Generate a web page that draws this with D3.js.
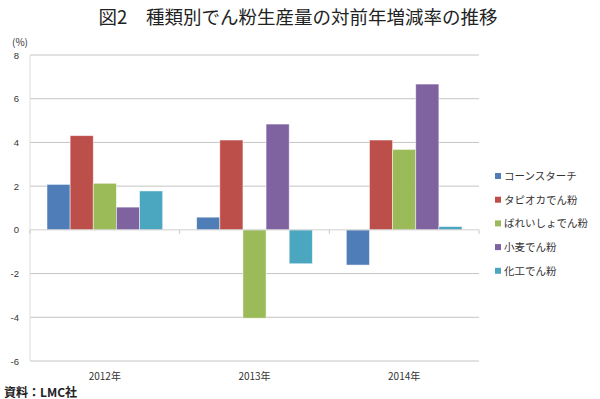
<!DOCTYPE html>
<html>
<head>
<meta charset="utf-8">
<script src="https://cdn.jsdelivr.net/npm/d3@7"></script>
<style>
  body { margin: 0; background: #fff; }
  svg { display: block; font-family: "Noto Sans CJK JP", "Liberation Sans", sans-serif; }
</style>
</head>
<body>
<svg id="viz" width="600" height="399"></svg>
<script>
const WIDTH = 600;
const HEIGHT = 399;

// data
const years = ["2012年", "2013年", "2014年"];
const series = ["コーンスターチ", "タピオカでん粉", "ばれいしょでん粉", "小麦でん粉", "化工でん粉"];
const colors = ["#4F7DB8", "#BD4F4B", "#9BBB59", "#7F62A0", "#4BA6C0"];
const cornstarch = [2.08, 0.58, -1.61];
const tapioca = [4.31, 4.11, 4.11];
const potato = [2.13, -4.04, 3.68];
const wheat = [1.04, 4.84, 6.67];
const modified = [1.78, -1.55, 0.15];
const yTicks = [-6, -4, -2, 0, 2, 4, 6, 8];

const values = [cornstarch, tapioca, potato, wheat, modified];

const PLOT = { left: 30, right: 479, top: 55, bottom: 361 };

const svg = d3.select("#viz");

const x0 = d3.scaleBand().domain(years).range([PLOT.left, PLOT.right]);
const x1 = d3.scaleBand().domain(series).range([17, x0.bandwidth() - 17]);
const y = d3.scaleLinear().domain([-6, 8]).range([PLOT.bottom, PLOT.top]);

// title
svg.append("text")
  .attr("x", 298).attr("y", 24)
  .attr("text-anchor", "middle")
  .attr("font-size", 18.5)
  .attr("fill", "#222")
  .text("図2　種類別でん粉生産量の対前年増減率の推移");

svg.append("text")
  .attr("x", 12).attr("y", 46)
  .attr("font-size", 10)
  .attr("fill", "#333")
  .text("(%)");

// grid lines
svg.append("g").selectAll("line")
  .data(yTicks.filter(d => d !== 0))
  .join("line")
  .attr("x1", PLOT.left).attr("x2", PLOT.right)
  .attr("y1", d => y(d)).attr("y2", d => y(d))
  .attr("stroke", "#c4c4c4")
  .attr("stroke-width", 1);

// y axis
svg.append("line")
  .attr("x1", PLOT.left).attr("x2", PLOT.left)
  .attr("y1", PLOT.top).attr("y2", PLOT.bottom)
  .attr("stroke", "#dcdcdc");

svg.append("g").selectAll("text")
  .data(yTicks)
  .join("text")
  .attr("x", 19).attr("y", d => y(d) + 3.5)
  .attr("text-anchor", "end")
  .attr("font-size", 9.5)
  .attr("font-family", "Liberation Sans, sans-serif")
  .attr("fill", "#333")
  .text(d => d);

// bars
const groups = svg.append("g").selectAll("g")
  .data(years)
  .join("g")
  .attr("transform", d => `translate(${x0(d)},0)`);

groups.selectAll("rect")
  .data((yr, i) => series.map((s, j) => ({ s, j, v: values[j][i] })))
  .join("rect")
  .attr("x", d => x1(d.s))
  .attr("width", x1.bandwidth())
  .attr("y", d => y(Math.max(0, d.v)))
  .attr("height", d => Math.abs(y(d.v) - y(0)))
  .attr("fill", d => colors[d.j])
  .attr("stroke", "#ffffff")
  .attr("stroke-opacity", 0.6)
  .attr("stroke-width", 0.8);

// zero axis line + category ticks
svg.append("line")
  .attr("x1", PLOT.left).attr("x2", PLOT.right)
  .attr("y1", y(0)).attr("y2", y(0))
  .attr("stroke", "#d0d0d0");

svg.append("g").selectAll("line")
  .data([PLOT.left, ...years.slice(1).map(d => x0(d)), PLOT.right])
  .join("line")
  .attr("x1", d => d).attr("x2", d => d)
  .attr("y1", y(0)).attr("y2", y(0) + 4)
  .attr("stroke", "#c8c8c8");

// x labels
svg.append("g").selectAll("text")
  .data(years)
  .join("text")
  .attr("x", d => x0(d) + x0.bandwidth() / 2)
  .attr("y", 380)
  .attr("text-anchor", "middle")
  .attr("font-size", 10)
  .attr("fill", "#333")
  .text(d => d);

// legend
const legend = svg.append("g").selectAll("g")
  .data(series)
  .join("g")
  .attr("transform", (d, i) => `translate(495,${176 + i * 23.7})`);

legend.append("rect")
  .attr("x", 0).attr("y", -3)
  .attr("width", 6).attr("height", 6)
  .attr("fill", (d, i) => colors[i]);

legend.append("text")
  .attr("x", 9).attr("y", 4)
  .attr("font-size", 10.5)
  .attr("fill", "#333")
  .text(d => d);

// source
svg.append("text")
  .attr("x", 4).attr("y", 397)
  .attr("font-size", 12)
  .attr("font-weight", "bold")
  .attr("fill", "#222")
  .text("資料：LMC社");
</script>
</body>
</html>
